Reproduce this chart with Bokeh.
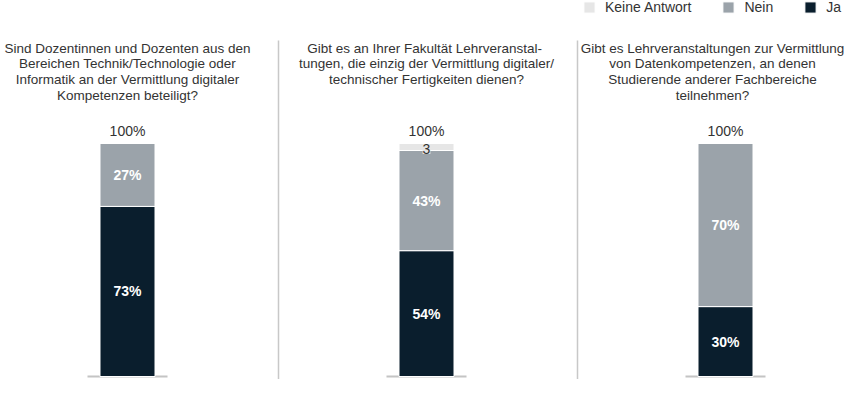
from bokeh.plotting import figure
from bokeh.models import ColumnDataSource, Range1d, LabelSet, Legend, LegendItem
from bokeh.core.properties import value
from bokeh.embed import file_html
from bokeh.resources import INLINE

# ---------------- data ----------------
questions = [
    "Sind Dozentinnen und Dozenten aus den\nBereichen Technik/Technologie oder\nInformatik an der Vermittlung digitaler\nKompetenzen beteiligt?",
    "Gibt es an Ihrer Fakultät  Lehrveranstal-\ntungen, die einzig der Vermittlung digitaler/\ntechnischer Fertigkeiten dienen?",
    "Gibt es Lehrveranstaltungen zur Vermittlung\nvon Datenkompetenzen, an denen\nStudierende anderer Fachbereiche\nteilnehmen?",
]
ja = [73, 54, 30]
nein = [27, 43, 70]
keine = [0, 3, 0]
series = ["Keine Antwort", "Nein", "Ja"]
series_colors = ["#e6e6e6", "#9ba3aa", "#0a1e2d"]

# ---------------- layout constants ----------------
W, H = 847, 379
FIRST_X, STEP, BAR_W = 127, 299, 55
BASE_PY, TOP_PY = 376.0, 143.0   # pixel y of 0 % and 100 %
PX_PER = (BASE_PY - TOP_PY) / 100.0
FONT = "Liberation Sans"
FS = "14px"
TITLE_FS = "13.5px"
TXT = "#333333"
TITLE_MAX_X = W - 135  # keep the widest title line inside the canvas


def v(py):
    return (BASE_PY - py) / PX_PER


xs = [FIRST_X + STEP * i for i in range(len(questions))]
totals = [a + b + c for a, b, c in zip(ja, nein, keine)]

src = ColumnDataSource(dict(
    x=xs, ja=ja, nein=nein, keine=keine, q=questions,
    tx=[min(x, TITLE_MAX_X) for x in xs],
    ja_mid=[a / 2 for a in ja],
    nein_mid=[a + b / 2 for a, b in zip(ja, nein)],
    ja_lbl=[f"{a}%" for a in ja],
    nein_lbl=[f"{b}%" for b in nein],
    tot=totals,
    tot_lbl=[f"{t}%" for t in totals],
))
k_idx = [i for i, k in enumerate(keine) if k > 0]
ksrc = ColumnDataSource(dict(
    x=[xs[i] for i in k_idx],
    y=[ja[i] + nein[i] + keine[i] / 2 for i in k_idx],
    t=[f"{keine[i]}" for i in k_idx],
))

p = figure(width=W, height=H, output_backend="svg", toolbar_location=None,
           x_range=Range1d(0, W), y_range=Range1d(v(H), v(0)),
           min_border=0, outline_line_color=None)
p.axis.visible = False
p.grid.visible = False
p.background_fill_color = "white"
p.border_fill_color = "white"

# separators between panels
sep_x = [xs[i] - STEP / 2 + 1.5 for i in range(1, len(xs))]
p.segment(x0=sep_x, x1=sep_x, y0=[v(40)] * len(sep_x), y1=[v(400)] * len(sep_x),
          line_color="#c8c8c8", line_width=1.5)

# baselines
p.segment(x0=[x - 40 for x in xs], x1=[x + 40 for x in xs], y0=[0] * len(xs), y1=[0] * len(xs),
          line_color="#c4c4c4", line_width=2)

rs = p.vbar_stack(["ja", "nein", "keine"], x="x", width=BAR_W, source=src,
                  color=[series_colors[2], series_colors[1], series_colors[0]],
                  line_color="white", line_width=1)

# titles
p.text(x="tx", y=v(40), text="q", source=src, text_align="center", text_baseline="top",
       text_font=value(FONT), text_font_size=TITLE_FS, text_color=TXT, text_line_height=1.06)

# labels
p.add_layout(LabelSet(x="x", y="ja_mid", text="ja_lbl", source=src, text_align="center",
                      text_baseline="middle", text_font=value(FONT), text_font_size=FS,
                      text_font_style="bold", text_color="white"))
p.add_layout(LabelSet(x="x", y="nein_mid", text="nein_lbl", source=src, text_align="center",
                      text_baseline="middle", text_font=value(FONT), text_font_size=FS,
                      text_font_style="bold", text_color="white"))
p.add_layout(LabelSet(x="x", y="tot", text="tot_lbl", source=src, text_align="center",
                      text_baseline="bottom", y_offset=5, text_font=value(FONT),
                      text_font_size=FS, text_color=TXT))
p.add_layout(LabelSet(x="x", y="y", text="t", source=ksrc, text_align="center",
                      text_baseline="middle", y_offset=-2, text_font=value(FONT),
                      text_font_size=FS, text_color=TXT,
                      background_fill_color="#e6e6e6"))

legend = Legend(items=[LegendItem(label=series[0], renderers=[rs[2]]),
                       LegendItem(label=series[1], renderers=[rs[1]]),
                       LegendItem(label=series[2], renderers=[rs[0]])],
                orientation="horizontal", location=(582, H - 15),
                glyph_width=14, glyph_height=14, label_height=14, label_standoff=9,
                spacing=30, padding=0, margin=0, border_line_color=None,
                background_fill_alpha=0, label_text_font=FONT,
                label_text_font_size=FS, label_text_color=TXT)
p.add_layout(legend)

open("out.html", "w").write(file_html(p, INLINE))
